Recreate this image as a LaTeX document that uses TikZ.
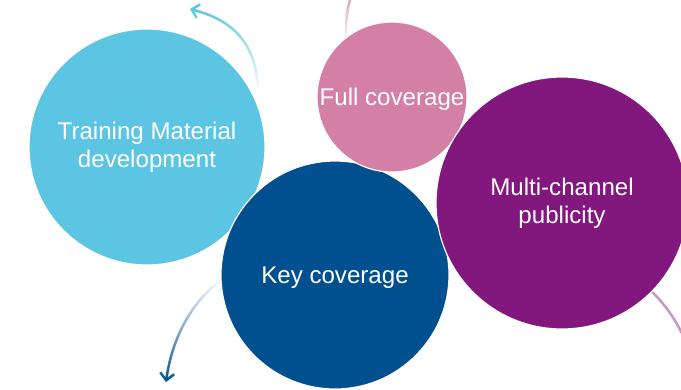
\documentclass[tikz,border=0pt]{standalone}
\usepackage{fontspec}
\setmainfont{Liberation Sans}
\usetikzlibrary{arrows.meta,fadings}
\definecolor{skyblue}{HTML}{5BC5E3}
\definecolor{rosepink}{HTML}{D47FA6}
\definecolor{navyblue}{HTML}{00508F}
\definecolor{plum}{HTML}{82177E}
\tikzset{
  bubble/.style={draw=white, line width=1.2bp, circle, inner sep=0pt, text=white, align=center,
    font=\fontsize{24.2}{28}\selectfont},
  trail/.style={line width=2.5bp, line cap=round}
}

\begin{document}
\begin{tikzpicture}[x=1bp, y=-1bp]
	\useasboundingbox (0,0) rectangle (681,389);
	% trails behind the bubbles
	\coordinate (T1) at (190,9);
	\coordinate (T2) at (166,382);
	\coordinate (T3) at (350,0);
	\coordinate (T4) at (690,352);
	\draw[trail, skyblue, path fading=south, -{Straight Barb[length=7bp, width=14bp]}] (258,90) .. controls (256,42) and (232,20) .. (T1);
	\draw[trail, navyblue, path fading=north, -{Straight Barb[length=7bp, width=14bp]}] (224,278) .. controls (192,300) and (172,338) .. (T2);
	\draw[trail, rosepink!70, path fading=south] (T3) .. controls (346,14) and (345,28) .. (347,42);
	\draw[trail, plum!45] (652,292) .. controls (666,305) and (680,325) .. (T4);
	% bubbles
	\node[bubble, fill=skyblue, minimum size=236bp] (A) at (147,147) {Training Material\\development};
	\node[bubble, fill=navyblue, minimum size=228bp, text depth=0pt] (B) at (335,275) {Key coverage};
	\node[bubble, fill=rosepink, minimum size=150bp, text depth=0pt] (C) at (392,97) {Full coverage};
	\node[bubble, fill=plum, minimum size=252bp] (D) at (562,203) {Multi-channel\\publicity};
\end{tikzpicture}
\end{document}
